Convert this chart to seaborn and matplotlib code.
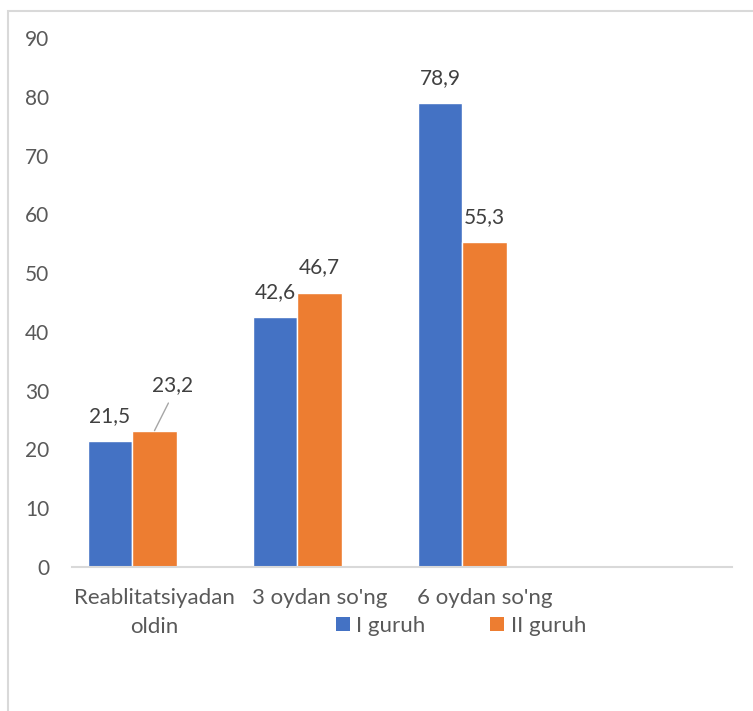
import matplotlib
matplotlib.use("Agg")
import matplotlib.pyplot as plt
from matplotlib.patches import Patch, Rectangle
import seaborn as sns
import pandas as pd

categories = ["Reablitatsiyadan\noldin", "3 oydan so'ng", "6 oydan so'ng"]
groups = ["I guruh", "II guruh"]
group1 = [21.5, 42.6, 78.9]
group2 = [23.2, 46.7, 55.3]
yticks = [0, 10, 20, 30, 40, 50, 60, 70, 80, 90]

BLUE = "#4472C4"
ORANGE = "#ED7D31"
TICK_COLOR = "#595959"
LABEL_COLOR = "#404040"
FRAME_COLOR = "#D9D9D9"
FONT = ["Lato", "DejaVu Sans"]

sns.set_theme(style="white")
plt.rcParams["font.family"] = FONT

df = pd.DataFrame({
    "category": categories * 2,
    "group": [groups[0]] * 3 + [groups[1]] * 3,
    "value": group1 + group2,
})

fig = plt.figure(figsize=(7.53, 7.11), dpi=100)
ax = fig.add_axes([72 / 753, 1 - 567 / 711, 660 / 753, (567 - 38) / 711])

# a fourth, empty category slot and a third, empty series slot keep the Excel-like spacing
order = categories + [""]
hue_order = groups + ["_spare"]
palette = {groups[0]: BLUE, groups[1]: ORANGE, "_spare": "white"}
sns.barplot(data=df, x="category", y="value", hue="group", order=order,
            hue_order=hue_order, palette=palette, width=0.81, saturation=1,
            legend=False, ax=ax, errorbar=None)

ax.set_ylim(0, 90)
ax.set_xlim(-0.5, 3.5)
ax.set_yticks(yticks)
ax.set_yticklabels([str(t) for t in yticks])
ax.set_xlabel("")
ax.set_ylabel("")
for s in ["top", "right", "left"]:
    ax.spines[s].set_visible(False)
ax.spines["bottom"].set_color(FRAME_COLOR)
ax.spines["bottom"].set_linewidth(1.5)
ax.tick_params(axis="y", length=0, pad=16.5, labelsize=15, labelcolor=TICK_COLOR)
ax.tick_params(axis="x", length=0, pad=15, labelsize=16, labelcolor=TICK_COLOR)
for lab in ax.get_xticklabels():
    lab.set_linespacing(1.6)
    lab.set_horizontalalignment("center")
ax.grid(False)

# value labels above each bar
series_values = [group1, group2]
for ci, container in enumerate(ax.containers[:2]):
    for bi, bar in enumerate(container.patches):
        v = series_values[ci][bi]
        xc = bar.get_x() + bar.get_width() / 2
        text = f"{v:.1f}".replace(".", ",")
        if ci == 1 and bi == 0:
            # moved label with a leader line back to its bar
            ax.annotate(text, xy=(xc, v), xytext=(13, 33), textcoords="offset points",
                        ha="center", va="center", fontsize=15, color=LABEL_COLOR,
                        arrowprops=dict(arrowstyle="-", color="#A6A6A6", lw=1,
                                        relpos=(0.5, 0.0), shrinkA=4, shrinkB=0))
        else:
            ax.annotate(text, xy=(xc, v), xytext=(0, 18), textcoords="offset points",
                        ha="center", va="center", fontsize=15, color=LABEL_COLOR)

handles = [Patch(facecolor=BLUE, edgecolor="none"), Patch(facecolor=ORANGE, edgecolor="none")]
fig.legend(handles, groups, loc="center", bbox_to_anchor=(461 / 753, 1 - 626 / 711),
           ncol=2, frameon=False, fontsize=16, labelcolor=TICK_COLOR,
           handlelength=0.63, handleheight=0.63, handletextpad=0.3,
           columnspacing=2.9, borderpad=0)

# chart-area border (clipped on the right and bottom)
fig.patches.append(Rectangle((8 / 753, -0.2), 1.2, 1.2 - 11 / 711,
                             transform=fig.transFigure, fill=False,
                             edgecolor=FRAME_COLOR, linewidth=1.5))

fig.savefig("out.png", dpi=100, facecolor="white")
